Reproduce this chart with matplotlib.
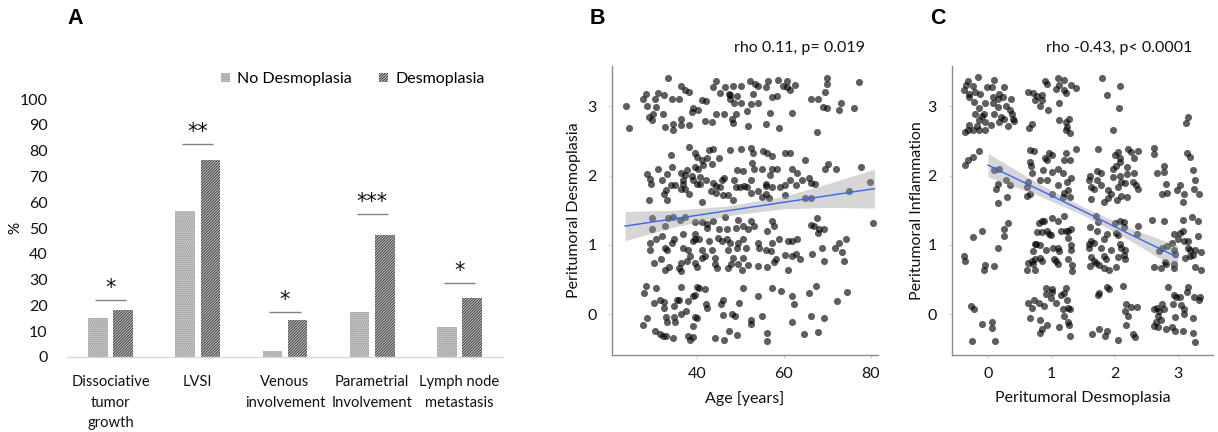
import numpy as np
import matplotlib
matplotlib.use("Agg")
import matplotlib.pyplot as plt
from matplotlib.patches import Patch

plt.rcParams['font.family'] = ['Lato', 'DejaVu Sans']
plt.rcParams['hatch.linewidth'] = 0.9

# ---------------- Panel A data ----------------
categories = ["Dissociative\ntumor\ngrowth", "LVSI", "Venous\ninvolvement",
              "Parametrial\nInvolvement", "Lymph node\nmetastasis"]
no_desmo = [15.2, 56.7, 2.2, 17.5, 11.6]
desmo = [18.4, 76.4, 14.3, 47.3, 22.9]
sig_labels = ["*", "**", "*", "***", "*"]
sig_heights = [22.1, 82.6, 17.6, 55.6, 28.8]
yticks_a = list(range(0, 101, 10))

# ---------------- Panel B data (age, peritumoral desmoplasia, jittered) ----------------
b_level3 = [(33.4,3.41),(36.3,3.29),(37.2,3.23),(38.3,3.21),(28.3,3.17),(31.0,3.19),(32.4,3.16),(27.6,3.10),
            (30.4,3.11),(34.3,3.10),(35.9,3.11),(23.7,3.01),(28.5,3.01),(30.6,2.99),(39.1,2.98),(38.9,2.92),
            (40.2,2.95),(41.1,3.09),(42.1,3.08),(30.0,2.89),(32.1,2.89),(29.0,2.84),(29.7,2.80),(36.4,2.81),
            (24.4,2.68),(32.6,2.70),(34.4,2.66),(34.4,2.75),(36.3,2.73),(38.2,2.73),(41.9,2.78),(43.4,2.77),
            (44.4,2.89),(46.3,2.89),(48.0,2.82),(48.2,2.76),(49.0,2.89),(43.6,3.28),(44.4,3.37),(46.5,3.28),
            (47.3,3.18),(48.2,3.29),(47.5,3.10),(48.5,3.04),(47.6,3.16),(49.1,3.14),(50.2,3.29),(50.2,3.04),
            (45.3,3.19),(52.1,3.37),(53.4,3.32),(54.1,3.29),(56.4,3.37),(58.7,3.38),(60.8,3.36),(62.5,3.30),
            (69.9,3.41),(69.9,3.32),(77.2,3.35),(55.9,3.28),(59.8,3.29),(60.8,3.27),(61.3,3.24),(52.9,3.18),
            (57.2,3.13),(58.3,3.14),(69.5,3.20),(52.4,3.03),(54.1,3.04),(51.6,2.93),(56.7,2.90),(61.9,2.90),
            (66.1,3.10),(67.9,3.10),(69.0,2.99),(69.9,2.98),(72.6,2.94),(73.2,3.05),(76.0,2.97),(55.8,2.75),
            (51.8,2.71),(58.9,2.68),(67.6,2.63)]
b_level2 = [(38.2,2.41),(42.8,2.37),(43.8,2.38),(34.1,2.29),(39.5,2.32),(40.0,2.26),(41.2,2.22),(42.4,2.25),
            (45.0,2.25),(43.4,2.17),(47.7,2.37),(50.2,2.38),(31.1,2.10),(34.3,2.12),(39.5,2.12),(40.2,2.10),
            (41.4,2.15),(37.7,2.08),(28.5,2.02),(33.1,2.02),(36.3,2.03),(37.2,2.01),(38.9,1.99),(40.6,1.98),
            (49.1,2.08),(50.7,2.06),(29.3,1.95),(32.0,1.93),(36.8,1.93),(39.2,1.93),(42.1,1.93),(43.8,1.89),
            (46.3,1.96),(45.7,1.93),(29.5,1.88),(35.0,1.86),(36.9,1.88),(40.0,1.88),(40.6,1.88),(44.4,1.85),
            (45.4,1.84),(48.5,1.93),(48.9,1.83),(50.0,1.84),(50.8,1.85),(32.9,1.79),(34.1,1.86),(36.3,1.80),
            (37.2,1.80),(38.2,1.74),(32.4,1.74),(43.2,1.77),(44.4,1.75),(45.9,1.72),(47.1,1.72),(29.1,1.65),
            (33.1,1.65),(41.2,1.62),(48.2,1.65),(52.4,2.39),(52.9,2.32),(55.2,2.36),(56.0,2.32),(57.3,2.28),
            (60.2,2.32),(61.3,2.32),(64.9,2.23),(52.6,2.18),(53.1,2.10),(55.0,2.10),(57.3,2.09),(58.3,2.09),
            (61.9,2.10),(70.1,2.17),(69.5,2.09),(72.0,2.09),(77.8,2.12),(56.7,2.01),(63.0,2.03),(52.4,1.94),
            (61.5,1.93),(64.1,1.94),(65.7,1.96),(55.8,1.85),(57.2,1.83),(55.8,1.88),(59.2,1.83),(60.2,1.86),
            (62.8,1.86),(66.3,1.89),(67.1,1.88),(51.6,1.84),(54.0,1.78),(55.8,1.74),(55.0,1.69),(56.6,1.68),
            (52.4,1.75),(60.2,1.72),(64.8,1.67),(66.1,1.67),(75.0,1.77),(79.8,1.91)]
b_level1 = [(29.7,1.39),(29.7,1.23),(32.7,1.27),(33.3,1.39),(34.4,1.40),(36.2,1.36),(37.2,1.40),(39.5,1.33),
            (41.1,1.33),(42.3,1.30),(42.3,1.24),(43.8,1.34),(46.5,1.40),(49.5,1.36),(45.0,1.23),(46.9,1.23),
            (48.9,1.24),(50.7,1.27),(30.5,1.09),(29.3,1.03),(32.0,1.12),(34.7,1.08),(34.3,1.03),(36.9,1.15),
            (39.5,1.15),(39.2,1.05),(39.5,1.09),(40.5,1.08),(42.7,1.06),(44.8,1.10),(45.7,1.05),(46.9,1.08),
            (47.6,1.03),(49.4,1.03),(50.7,1.09),(29.3,0.93),(32.7,0.95),(33.1,0.92),(36.9,0.95),(37.9,0.92),
            (41.1,0.92),(41.9,0.84),(43.4,0.92),(47.2,0.93),(38.4,0.84),(37.7,0.76),(39.5,0.74),(40.0,0.68),
            (36.3,0.74),(35.9,0.66),(36.3,0.62),(33.6,0.68),(32.7,0.63),(30.1,0.74),(31.8,0.79),(41.1,0.81),
            (44.2,0.81),(44.6,0.66),(44.2,0.72),(47.2,0.66),(47.9,0.72),(48.4,0.81),(49.5,0.72),(50.3,0.64),
            (50.5,0.81),(49.1,0.96),(52.4,1.34),(51.8,1.23),(53.1,1.27),(57.2,1.34),(57.7,1.27),(56.2,1.20),
            (67.6,1.38),(66.2,1.28),(66.8,1.27),(68.1,1.23),(69.3,1.23),(67.9,1.17),(80.4,1.32),(58.9,1.09),
            (61.0,1.06),(61.9,1.05),(63.1,1.08),(54.0,1.03),(54.2,0.96),(55.8,0.93),(57.2,1.03),(57.0,0.91),
            (60.2,0.85),(61.8,0.84),(62.8,0.87),(63.6,0.80),(66.5,0.87),(68.8,0.96),(71.7,0.96),(72.6,1.03),
            (74.2,1.09),(73.4,0.90),(69.3,0.77),(73.7,0.77),(58.1,0.80),(57.7,0.75),(51.8,0.71),(54.1,0.69),
            (56.0,0.68),(61.0,0.64),(51.2,0.96)]
b_level0 = [(28.2,0.40),(27.8,0.31),(30.6,0.37),(36.3,0.39),(40.0,0.39),(40.4,0.38),(41.9,0.36),(50.7,0.38),
            (35.4,0.21),(35.9,0.20),(39.0,0.26),(39.5,0.27),(37.9,0.19),(30.1,0.16),(31.6,0.20),(32.4,0.18),
            (32.4,0.09),(34.7,0.12),(42.1,0.14),(42.3,0.09),(45.9,0.21),(45.5,0.15),(49.7,0.16),(36.3,0.00),
            (37.5,0.04),(39.5,-0.04),(40.0,-0.06),(32.8,-0.04),(34.7,-0.04),(46.1,-0.01),(48.0,0.00),(48.8,-0.03),
            (28.6,-0.06),(27.6,-0.16),(33.1,-0.12),(34.9,-0.12),(39.0,-0.17),(47.3,-0.25),(49.1,-0.30),(30.3,-0.24),
            (31.6,-0.28),(32.1,-0.32),(32.9,-0.32),(34.4,-0.35),(37.9,-0.32),(38.5,-0.38),(39.0,-0.33),(44.2,-0.35),
            (46.3,-0.38),(57.2,0.37),(59.3,0.33),(67.4,0.40),(65.7,0.31),(74.5,0.32),(54.0,0.26),(61.9,0.26),
            (62.3,0.14),(72.2,0.19),(54.9,-0.03),(52.4,-0.08),(52.4,-0.14),(66.1,-0.03),(69.1,-0.06),(61.8,-0.12),
            (56.2,-0.27),(56.2,-0.39),(64.6,-0.28),(67.9,-0.26)]
b_fit_age = [23.5, 35, 47, 60, 70, 80.8]
b_fit = [1.27, 1.378, 1.491, 1.614, 1.708, 1.81]
b_ci_lo = [1.06, 1.26, 1.42, 1.52, 1.54, 1.53]
b_ci_hi = [1.48, 1.50, 1.56, 1.70, 1.88, 2.09]

# ---------------- Panel C data (desmoplasia, inflammation, jittered) ----------------
c_level3 = [(-0.31,3.37),(-0.16,3.42),(0.09,3.38),(-0.35,3.30),(-0.24,3.29),(-0.38,3.24),(-0.21,3.21),(-0.30,3.18),
            (-0.12,3.18),(-0.30,3.13),(-0.01,3.27),(0.07,3.28),(0.25,3.27),(0.17,3.18),(0.08,3.13),(0.15,3.10),
            (0.24,3.13),(0.36,3.10),(-0.22,3.06),(-0.04,3.04),(0.08,3.05),(-0.14,2.97),(0.15,2.99),(0.29,3.01),
            (-0.21,2.89),(-0.10,2.86),(-0.06,2.89),(0.09,2.89),(0.34,2.94),(0.38,2.89),(0.39,2.82),(-0.14,2.80),
            (-0.04,2.77),(0.04,2.73),(0.17,2.77),(0.20,2.84),(0.25,2.81),(0.41,2.79),(-0.30,2.73),(-0.17,2.71),
            (0.31,2.71),(-0.37,2.63),(-0.31,2.66),(-0.24,2.65),(-0.14,2.65),(-0.04,2.65),(0.90,3.37),(0.94,3.32),
            (1.11,3.41),(1.20,3.38),(1.13,3.30),(1.08,3.25),(1.20,3.24),(1.24,3.19),(1.32,3.30),(1.40,3.26),
            (0.64,3.21),(0.71,3.19),(0.78,3.14),(0.86,3.16),(0.74,3.09),(0.85,3.09),(0.82,3.00),(0.95,2.94),
            (1.13,3.04),(0.69,2.74),(0.65,2.68),(1.13,2.80),(1.23,2.77),(1.28,2.81),(1.25,2.70),(1.23,2.65),
            (1.29,2.62),(1.81,3.40),(2.09,3.29),(1.89,3.16),(2.08,2.97),(1.97,2.65),(3.17,2.85),(3.13,2.76)]
c_level2 = [(-0.15,2.36),(-0.24,2.27),(-0.31,2.22),(-0.36,2.15),(0.09,2.08),(0.18,2.10),(0.29,1.93),(0.15,1.88),
            (0.12,1.81),(0.34,1.86),(0.30,1.69),(0.16,1.61),(0.66,2.37),(0.73,2.36),(0.96,2.33),(1.01,2.29),
            (0.94,2.22),(0.90,2.25),(1.24,2.32),(1.39,2.38),(0.66,2.20),(0.68,2.13),(0.70,2.03),(0.64,1.90),
            (0.62,1.83),(0.87,2.08),(1.01,2.05),(0.82,1.94),(0.94,1.94),(1.11,2.09),(1.20,2.22),(1.29,2.23),
            (1.19,2.03),(1.32,1.96),(1.25,1.91),(1.11,1.86),(1.27,1.79),(1.20,1.75),(1.29,1.69),(1.18,1.69),
            (1.01,1.74),(0.66,1.74),(0.61,1.70),(1.74,2.38),(2.06,2.34),(2.01,2.29),(2.09,2.25),(2.21,2.38),
            (2.27,2.34),(2.38,2.36),(2.31,2.25),(2.62,2.39),(2.62,2.31),(3.15,2.33),(3.20,2.26),(2.09,2.20),
            (2.02,2.14),(1.97,2.09),(2.20,2.12),(2.78,2.14),(2.67,2.04),(2.78,2.05),(3.24,2.08),(1.62,2.00),
            (1.72,2.06),(1.79,2.03),(1.59,1.93),(1.73,1.94),(1.78,1.87),(1.97,1.98),(2.09,2.00),(2.20,2.02),
            (2.31,2.03),(2.10,1.90),(2.16,1.89),(2.05,1.83),(2.30,1.90),(2.34,1.86),(2.38,1.81),(1.63,1.83),
            (1.68,1.81),(1.90,1.79),(1.94,1.73),(1.90,1.67),(1.83,1.62),(2.04,1.65),(2.11,1.70),(2.20,1.69),
            (1.63,1.66),(2.81,1.88),(2.75,1.73),(2.83,1.75),(3.04,1.86),(2.99,1.79),(3.10,1.73),(3.09,1.62),
            (3.27,1.93),(3.26,1.80),(3.34,1.73)]
c_level1 = [(0.32,1.32),(0.26,1.23),(0.25,1.12),(-0.10,1.20),(-0.24,1.11),(0.16,0.95),(-0.38,0.84),(-0.36,0.76),
            (-0.05,0.71),(-0.06,0.63),(0.09,0.69),(0.85,1.34),(0.89,1.35),(1.02,1.38),(1.11,1.35),(1.20,1.41),
            (0.80,1.31),(0.78,1.19),(0.85,1.19),(0.94,1.20),(0.99,1.14),(0.96,1.15),(1.15,1.20),(1.23,1.20),
            (1.27,1.20),(1.31,1.23),(1.27,1.10),(0.74,1.01),(0.82,0.99),(0.76,1.01),(0.71,0.91),(0.91,0.93),
            (1.03,0.95),(1.11,0.96),(1.12,0.91),(1.32,0.99),(1.32,0.92),(0.75,0.80),(0.69,0.77),(0.82,0.81),
            (0.85,0.77),(0.64,0.74),(0.71,0.72),(1.04,0.80),(1.08,0.77),(1.11,0.72),(1.27,0.79),(1.33,0.71),
            (1.33,0.62),(0.62,0.63),(0.74,0.63),(1.71,1.41),(1.74,1.33),(1.62,1.25),(1.73,1.20),(2.01,1.32),
            (2.09,1.35),(2.15,1.33),(2.15,1.25),(2.37,1.27),(2.36,1.16),(1.88,1.16),(2.02,1.17),(2.06,1.14),
            (1.63,1.05),(1.60,1.01),(1.59,0.96),(1.67,1.03),(1.84,1.08),(1.79,0.96),(1.94,0.93),(2.09,1.01),
            (2.11,0.96),(2.16,0.93),(2.15,0.85),(2.17,0.79),(2.06,0.82),(1.84,0.84),(1.87,0.79),(1.63,0.82),
            (1.67,0.76),(1.71,0.74),(1.76,0.71),(1.62,0.69),(1.83,0.67),(1.92,0.63),(2.02,0.68),(2.59,1.36),
            (2.78,1.35),(3.08,1.36),(3.22,1.40),(3.32,1.35),(2.94,1.16),(3.03,1.17),(3.08,1.20),(3.00,1.09),
            (3.10,1.06),(3.17,1.05),(3.33,1.12),(2.91,1.03),(2.83,0.98),(2.75,0.96),(2.71,0.91),(2.95,0.93),
            (2.96,0.87),(3.17,0.96),(3.20,0.92),(3.24,0.86),(3.27,0.93),(3.37,0.90),(3.11,0.81),(3.20,0.84),
            (2.80,0.75),(2.82,0.72),(2.63,0.68),(2.73,0.66),(2.94,0.66),(2.95,0.72),(3.27,0.68),(3.37,0.64)]
c_level0 = [(-0.27,0.12),(-0.22,0.08),(-0.09,-0.14),(0.06,-0.12),(0.07,-0.20),(-0.26,-0.39),(0.11,-0.39),(0.92,0.37),
            (1.02,0.36),(1.23,0.38),(0.92,0.29),(1.02,0.32),(1.15,0.27),(1.20,0.31),(1.25,0.20),(0.73,0.21),
            (0.64,0.16),(0.69,0.09),(0.81,0.16),(0.89,0.12),(0.99,0.23),(1.07,0.16),(1.19,0.08),(1.27,0.09),
            (1.29,0.07),(1.20,-0.03),(0.67,-0.05),(0.83,-0.08),(1.27,-0.12),(1.28,-0.16),(0.94,-0.16),(0.85,-0.22),
            (0.82,-0.27),(1.13,-0.19),(1.29,-0.32),(1.76,0.31),(1.74,0.27),(1.89,0.39),(1.92,0.36),(2.13,0.40),
            (2.85,0.39),(3.17,0.39),(3.15,0.32),(2.95,0.27),(2.97,0.24),(3.03,0.24),(3.26,0.24),(3.35,0.24),
            (3.34,0.20),(2.18,0.14),(2.26,0.10),(2.36,0.10),(2.16,0.04),(2.22,-0.03),(2.18,-0.15),(2.92,0.15),
            (3.06,0.13),(3.10,0.07),(3.10,0.00),(3.24,-0.06),(2.63,0.07),(2.67,0.09),(2.71,0.05),(2.75,0.14),
            (2.78,0.07),(2.69,-0.03),(2.73,-0.09),(2.62,-0.17),(2.66,-0.12),(2.69,-0.19),(2.82,-0.21),(2.91,-0.19),
            (2.96,-0.25),(3.08,-0.24),(3.24,-0.27),(3.27,-0.40),(2.96,-0.04),(1.65,-0.28),(1.76,-0.22),(1.88,-0.25),
            (1.85,-0.32),(2.05,-0.38),(2.29,-0.28),(2.33,-0.33)]
c_fit_x = [0, 0.75, 1.5, 2.25, 3.0]
c_fit = [2.15, 1.82, 1.49, 1.15, 0.82]
c_ci_lo = [1.98, 1.73, 1.43, 1.06, 0.65]
c_ci_hi = [2.32, 1.91, 1.55, 1.24, 0.99]

# ---------------- Figure ----------------
W, H = 1218, 432
fig = plt.figure(figsize=(W / 100, H / 100), dpi=100)

ND_FACE, ND_HATCH, ND_PAT = '#d4d4d4', '#8c8c8c', '.' * 8
D_FACE, D_HATCH, D_PAT = '#e0e0e0', '#4d4d4d', '/' * 12

# ---- Panel A ----
axA = fig.add_axes([67 / W, 75 / H, 436 / W, 258 / H])
xpos = np.arange(len(categories))
bw, off = 0.225, 0.145
axA.bar(xpos - off, no_desmo, bw, facecolor=ND_FACE, edgecolor=ND_HATCH, hatch=ND_PAT, linewidth=0)
axA.bar(xpos + off, desmo, bw, facecolor=D_FACE, edgecolor=D_HATCH, hatch=D_PAT, linewidth=0)
for i, (lab, h) in enumerate(zip(sig_labels, sig_heights)):
    axA.plot([i - 0.18, i + 0.18], [h, h], color='#808080', lw=1.0, solid_capstyle='butt')
    axA.text(i, h + 0.6, lab, ha='center', va='bottom', fontsize=15,
             family='DejaVu Sans', color='#111111')
axA.set_xlim(-0.5, len(categories) - 0.5)
axA.set_ylim(0, 100)
axA.set_yticks(yticks_a)
axA.set_xticks(xpos)
axA.set_xticklabels(categories, fontsize=10.6, linespacing=1.6, va='top')
axA.tick_params(axis='both', length=0, colors='#111111')
axA.tick_params(axis='y', pad=14, labelsize=11.5)
axA.tick_params(axis='x', pad=13)
for s in ['left', 'top', 'right']:
    axA.spines[s].set_visible(False)
axA.spines['bottom'].set_color('#d9d9d9')
axA.spines['bottom'].set_linewidth(1.0)
fig.text(15 / W, 1 - 228 / H, '%', rotation=90, ha='center', va='center', fontsize=11)

handles = [Patch(facecolor=ND_FACE, edgecolor=ND_HATCH, hatch=ND_PAT, linewidth=0),
           Patch(facecolor=D_FACE, edgecolor=D_HATCH, hatch=D_PAT, linewidth=0)]
fig.legend(handles, ['No Desmoplasia', 'Desmoplasia'], loc='center',
           bbox_to_anchor=(353 / W, 1 - 79 / H), ncol=2, frameon=False,
           handlelength=0.55, handleheight=0.55, handletextpad=0.45,
           columnspacing=1.7, fontsize=11.5)


def scatter_panel(ax, levels, fit_x, fit_y, lo, hi, xlim, xticks, xlabel, ylabel, title, title_x, ylab_x):
    for pts in levels:
        arr = np.array(pts)
        ax.scatter(arr[:, 0], arr[:, 1], s=26, c='black', alpha=0.63, linewidths=0, zorder=2)
    ax.fill_between(fit_x, lo, hi, color='#999999', alpha=0.4, linewidth=0, zorder=3)
    ax.plot(fit_x, fit_y, color='#3366ff', lw=1.0, zorder=4)
    ax.set_xlim(*xlim)
    ax.set_ylim(-0.59, 3.58)
    ax.set_xticks(xticks)
    ax.set_yticks([0, 1, 2, 3])
    for s in ['top', 'right']:
        ax.spines[s].set_visible(False)
    for s in ['left', 'bottom']:
        ax.spines[s].set_color('#8c8c8c')
        ax.spines[s].set_linewidth(1.0)
    ax.tick_params(axis='both', length=2, color='#d0d0d0', labelsize=11.5, colors='#111111')
    ax.tick_params(axis='both', color='#d0d0d0')
    ax.tick_params(axis='y', pad=9)
    ax.tick_params(axis='x', pad=7)
    ax.set_xlabel(xlabel, fontsize=11.5, color='#111111')
    ax.set_ylabel(ylabel, fontsize=11.5, color='#111111')
    ax.yaxis.set_label_coords(ylab_x, 0.5)
    ax.xaxis.set_label_coords(0.5, -0.125)
    ax.text(title_x, 1.062, title, transform=ax.transAxes, ha='right', va='center',
            fontsize=11.5, color='#111111')


axB = fig.add_axes([612 / W, 77 / H, 266 / W, 289 / H])
scatter_panel(axB, [b_level3, b_level2, b_level1, b_level0], b_fit_age, b_fit, b_ci_lo, b_ci_hi,
              (20.5, 81.6), [40, 60, 80], 'Age [years]', 'Peritumoral Desmoplasia',
              'rho 0.11, p= 0.019', 0.95, -(612 - 581) / 266)

axC = fig.add_axes([952 / W, 77 / H, 261 / W, 289 / H])
scatter_panel(axC, [c_level3, c_level2, c_level1, c_level0], c_fit_x, c_fit, c_ci_lo, c_ci_hi,
              (-0.57, 3.56), [0, 1, 2, 3], 'Peritumoral Desmoplasia', 'Peritumoral Inflammation',
              'rho -0.43, p< 0.0001', 0.92, -(952 - 924) / 261)

for letter, xp in [('A', 75), ('B', 597), ('C', 938)]:
    fig.text(xp / W, 1 - 19 / H, letter, ha='center', va='center', fontsize=15.5,
             fontweight='bold', family='Liberation Sans')

fig.savefig('out.png', dpi=100)
